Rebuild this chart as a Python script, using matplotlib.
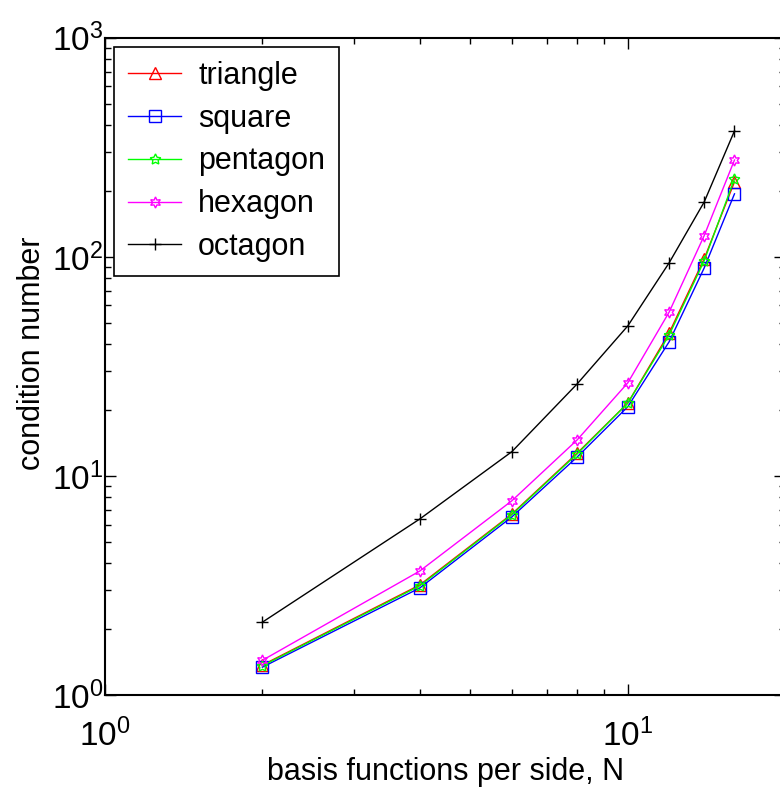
import matplotlib
matplotlib.use("Agg")
import matplotlib.pyplot as plt
from matplotlib.ticker import LogLocator, NullFormatter

plt.rcParams['font.family'] = ['Liberation Sans', 'DejaVu Sans']
plt.rcParams['mathtext.fontset'] = 'custom'
plt.rcParams['mathtext.rm'] = 'Liberation Sans'
plt.rcParams['mathtext.it'] = 'Liberation Sans'

# data
N = [2, 4, 6, 8, 10, 12, 14, 16]
triangle = [1.37, 3.18, 6.7, 12.7, 21.5, 45, 98, 220]
square = [1.34, 3.08, 6.5, 12.2, 20.7, 41, 89, 194]
pentagon = [1.36, 3.15, 6.65, 12.6, 21.5, 44, 96, 227]
hexagon = [1.44, 3.68, 7.7, 14.6, 26.6, 56, 125, 277]
octagon = [2.15, 6.36, 12.9, 26.3, 48.4, 94, 178, 376]

series = [
    ("triangle", triangle, '#ff0000', '^'),
    ("square", square, '#0000ff', 's'),
    ("pentagon", pentagon, '#00ff00', (5, 1, 0)),
    ("hexagon", hexagon, '#ff00ff', (6, 1, 0)),
    ("octagon", octagon, 'k', '+'),
]

fig = plt.figure(figsize=(7.8, 7.88), dpi=100)
ax = fig.add_axes([0.1346, 0.118, 0.872, 0.834])

for name, vals, col, mk in series:
    ax.plot(N, vals, color=col, marker=mk, markersize=8, markerfacecolor='none',
            markeredgecolor=col, markeredgewidth=1.0, linewidth=1.0, label=name)

ax.set_xscale('log')
ax.set_yscale('log')
ax.set_xlim(1, 20)
ax.set_ylim(1, 1000)

ax.xaxis.set_major_locator(LogLocator(base=10))
ax.xaxis.set_minor_locator(LogLocator(base=10, subs=range(2, 10)))
ax.yaxis.set_minor_locator(LogLocator(base=10, subs=range(2, 10)))
ax.xaxis.set_minor_formatter(NullFormatter())
ax.yaxis.set_minor_formatter(NullFormatter())

ax.tick_params(which='both', direction='in', top=True, right=True, labelsize=24, width=1)
ax.tick_params(which='major', length=8)
ax.tick_params(which='minor', length=4)
ax.tick_params(axis='x', which='major', pad=17)
ax.tick_params(axis='y', which='major', pad=1)
for sp in ax.spines.values():
    sp.set_linewidth(1.5)

ax.set_xlabel("basis functions per side, N", fontsize=22, labelpad=3)
ax.set_ylabel("condition number", fontsize=22)
ax.yaxis.set_label_coords(-0.085, 0.52)

leg = ax.legend(loc='upper left', fontsize=22, fancybox=False, framealpha=1,
                edgecolor='k', handlelength=1.75, handletextpad=0.55,
                labelspacing=0.42, borderaxespad=0.3, borderpad=0.45)
leg.get_frame().set_linewidth(1.2)

fig.savefig("out.png", dpi=100)
